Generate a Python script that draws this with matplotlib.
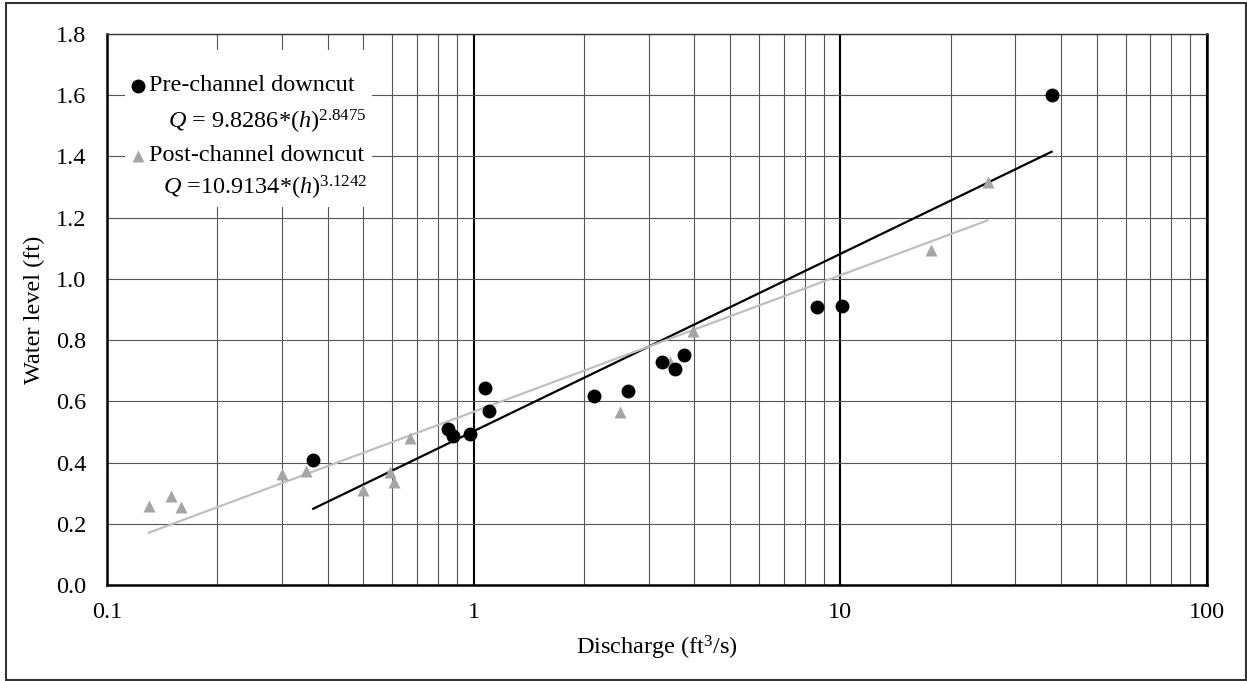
import numpy as np
import matplotlib
matplotlib.use('Agg')
import matplotlib.pyplot as plt
from matplotlib.patches import Rectangle
from matplotlib.ticker import FixedLocator, LogLocator, NullFormatter

plt.rcParams['font.family'] = 'Liberation Serif'
plt.rcParams['mathtext.fontset'] = 'custom'
plt.rcParams['mathtext.rm'] = 'Liberation Serif'
plt.rcParams['mathtext.it'] = 'Liberation Serif:italic'

# Pre-channel downcut measurements
pre_q = [0.365, 0.849, 0.880, 0.977, 1.073, 1.10, 2.133, 2.641, 3.268, 3.54, 3.75, 8.65, 10.08, 37.7]
pre_h = [0.408, 0.509, 0.486, 0.493, 0.644, 0.569, 0.617, 0.634, 0.729, 0.705, 0.751, 0.908, 0.910, 1.602]

# Post-channel downcut measurements
post_q = [0.130, 0.149, 0.159, 0.300, 0.350, 0.500, 0.591, 0.606, 0.670, 2.50, 3.43, 3.97, 17.66, 25.2]
post_h = [0.259, 0.291, 0.255, 0.362, 0.373, 0.310, 0.368, 0.337, 0.479, 0.565, 0.729, 0.829, 1.096, 1.316]

# trendline coefficients, h = a*ln(Q) + b
pre_fit = (0.2515, 0.5025)
post_fit = (0.1937, 0.566)

y_ticks = [0.0, 0.2, 0.4, 0.6, 0.8, 1.0, 1.2, 1.4, 1.6, 1.8]
x_ticks = [0.1, 1, 10, 100]
x_labels = ['0.1', '1', '10', '100']

FS = 17.5

fig = plt.figure(figsize=(12.47, 6.81), dpi=100)
ax = fig.add_axes([107 / 1247, 96 / 681, 1100 / 1247, 551 / 681])

ax.set_xscale('log')
ax.set_xlim(0.1, 100)
ax.set_ylim(0, 1.8)

ax.xaxis.set_major_locator(FixedLocator(x_ticks))
ax.set_xticklabels(x_labels)
ax.xaxis.set_minor_locator(LogLocator(base=10, subs=np.arange(2, 10)))
ax.xaxis.set_minor_formatter(NullFormatter())
ax.set_yticks(y_ticks)
ax.set_yticklabels([f'{v:.1f}' for v in y_ticks])

ax.tick_params(which='both', length=0, labelsize=FS)
ax.tick_params(axis='y', pad=15)
ax.tick_params(axis='x', pad=12)

# grid: thin lines everywhere, heavier lines at the decades
ax.grid(which='minor', axis='x', color='#555555', lw=0.8)
ax.grid(which='major', axis='y', color='#555555', lw=0.8)
ax.grid(which='major', axis='x', color='black', lw=1.5)
ax.set_axisbelow(True)

for side in ['left', 'bottom', 'right']:
    ax.spines[side].set_linewidth(1.8)
ax.spines['top'].set_linewidth(1.0)
ax.spines['top'].set_color('#333333')

# trendlines over each data range
for q, fit, col in [(pre_q, pre_fit, 'black'), (post_q, post_fit, '#bfbfbf')]:
    xs = np.array([min(q), max(q)])
    ax.plot(xs, fit[0] * np.log(xs) + fit[1], color=col, lw=1.6, zorder=2)

ax.plot(post_q, post_h, '^', color='#a5a5a5', ms=9, mec='none', zorder=3)
ax.plot(pre_q, pre_h, 'o', color='black', ms=10, mec='none', zorder=4)

ax.set_xlabel('Discharge (ft$^3$/s)', fontsize=FS, labelpad=8)
ax.set_ylabel('Water level (ft)', fontsize=FS, labelpad=8)

# legend block
ax.add_patch(Rectangle((0.0164, 0.686), 0.2246, 0.285, transform=ax.transAxes,
                       facecolor='white', edgecolor='none', zorder=5))
ax.plot([0.0282], [0.906], 'o', color='black', ms=10, mec='none',
        transform=ax.transAxes, zorder=6, clip_on=False)
ax.plot([0.0282], [0.7786], '^', color='#a5a5a5', ms=9, mec='none',
        transform=ax.transAxes, zorder=6, clip_on=False)
ax.text(0.038, 0.906, 'Pre-channel downcut', transform=ax.transAxes,
        fontsize=FS, va='center', ha='left', zorder=6)
ax.text(0.2364, 0.840, r'$Q$ = 9.8286*($h$)$^{2.8475}$', transform=ax.transAxes,
        fontsize=FS, va='center', ha='right', zorder=6)
ax.text(0.038, 0.7786, 'Post-channel downcut', transform=ax.transAxes,
        fontsize=FS, va='center', ha='left', zorder=6)
ax.text(0.2364, 0.7205, r'$Q$ =10.9134*($h$)$^{3.1242}$', transform=ax.transAxes,
        fontsize=FS, va='center', ha='right', zorder=6)

# outer frame
fig.patches.append(Rectangle((6 / 1247, 1 / 681), 1240 / 1247, 677 / 681,
                             transform=fig.transFigure, fill=False,
                             edgecolor='#333333', lw=1.5))

fig.savefig('out.png', dpi=100)
